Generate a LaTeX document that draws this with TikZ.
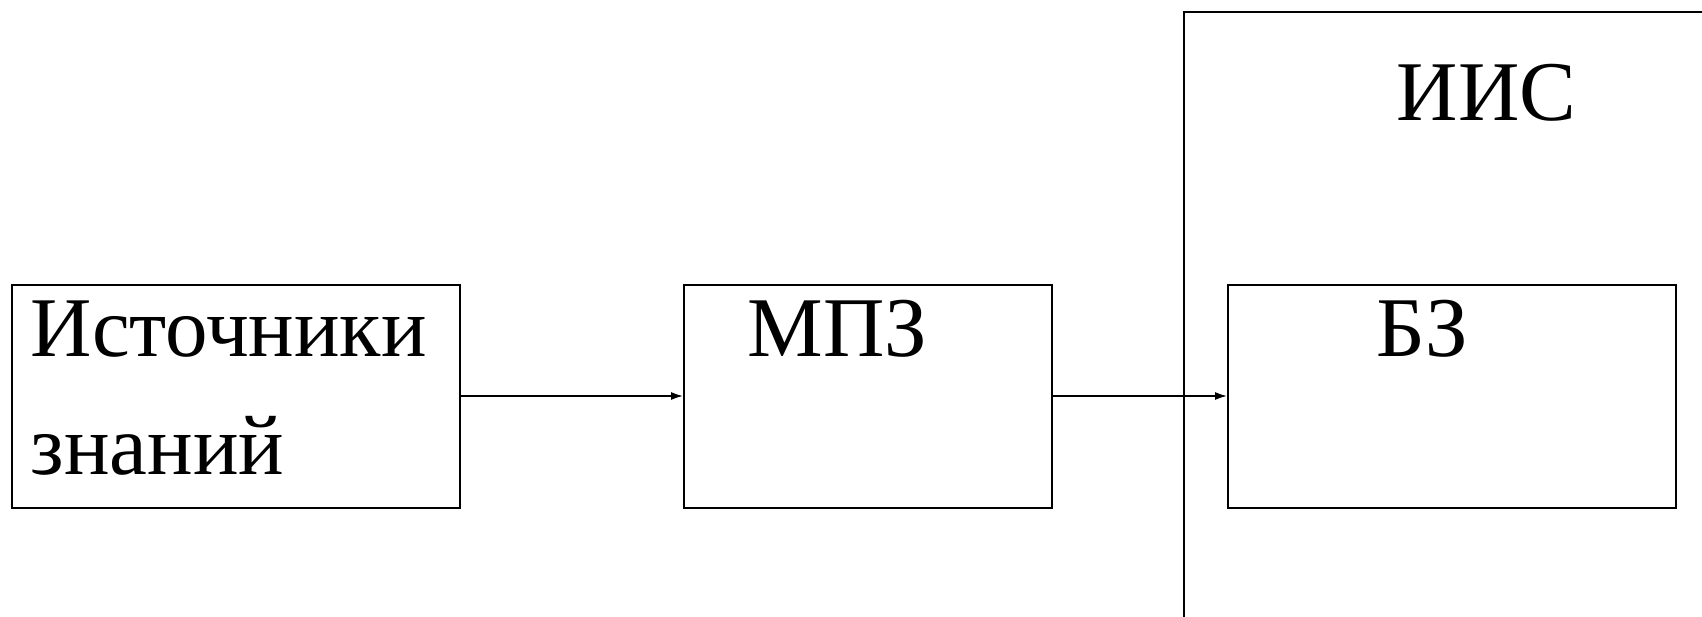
\documentclass[tikz,border=0pt]{standalone}
\usepackage{fontspec}
\setmainfont{Liberation Serif}
\usetikzlibrary{arrows.meta}
\begin{document}
\begin{tikzpicture}[x=1pt,y=-1pt,
  line width=1.6pt,
  blk/.style={draw,line width=1.6pt,rectangle,inner sep=0pt,anchor=north west},
  lbl/.style={inner sep=0pt,anchor=base west,font=\fontsize{85}{100}\selectfont},
  conn/.style={-{Latex[length=12pt,width=8pt]},line width=1.6pt}]
\useasboundingbox (0,0) rectangle (1702,616);
% boxes
\node[blk,minimum width=448pt,minimum height=223pt] (src) at (11,284) {};
\node[blk,minimum width=368pt,minimum height=223pt] (mpz) at (683,284) {};
\node[blk,minimum width=448pt,minimum height=223pt] (bz) at (1227,284) {};
% outer IIS frame (partly outside the picture)
\coordinate (iisbl) at (1184,620);
\coordinate (iistl) at (1184,12);
\coordinate (iistr) at (1706,12);
\draw (iisbl) -- (iistl) -- (iistr);
% labels
\node[lbl] (t1) at (30,356) {Источники};
\node[lbl] (t2) at (30,474) {знаний};
\node[lbl] (t3) at (747,356) {МПЗ};
\node[lbl] (t4) at (1376,356) {БЗ};
\node[lbl] (t5) at (1396,120) {ИИС};
% connectors
\draw[conn] (src.east |- 0,396) -- (mpz.west |- 0,396);
\draw[conn] (mpz.east |- 0,396) -- (bz.west |- 0,396);
\end{tikzpicture}
\end{document}
